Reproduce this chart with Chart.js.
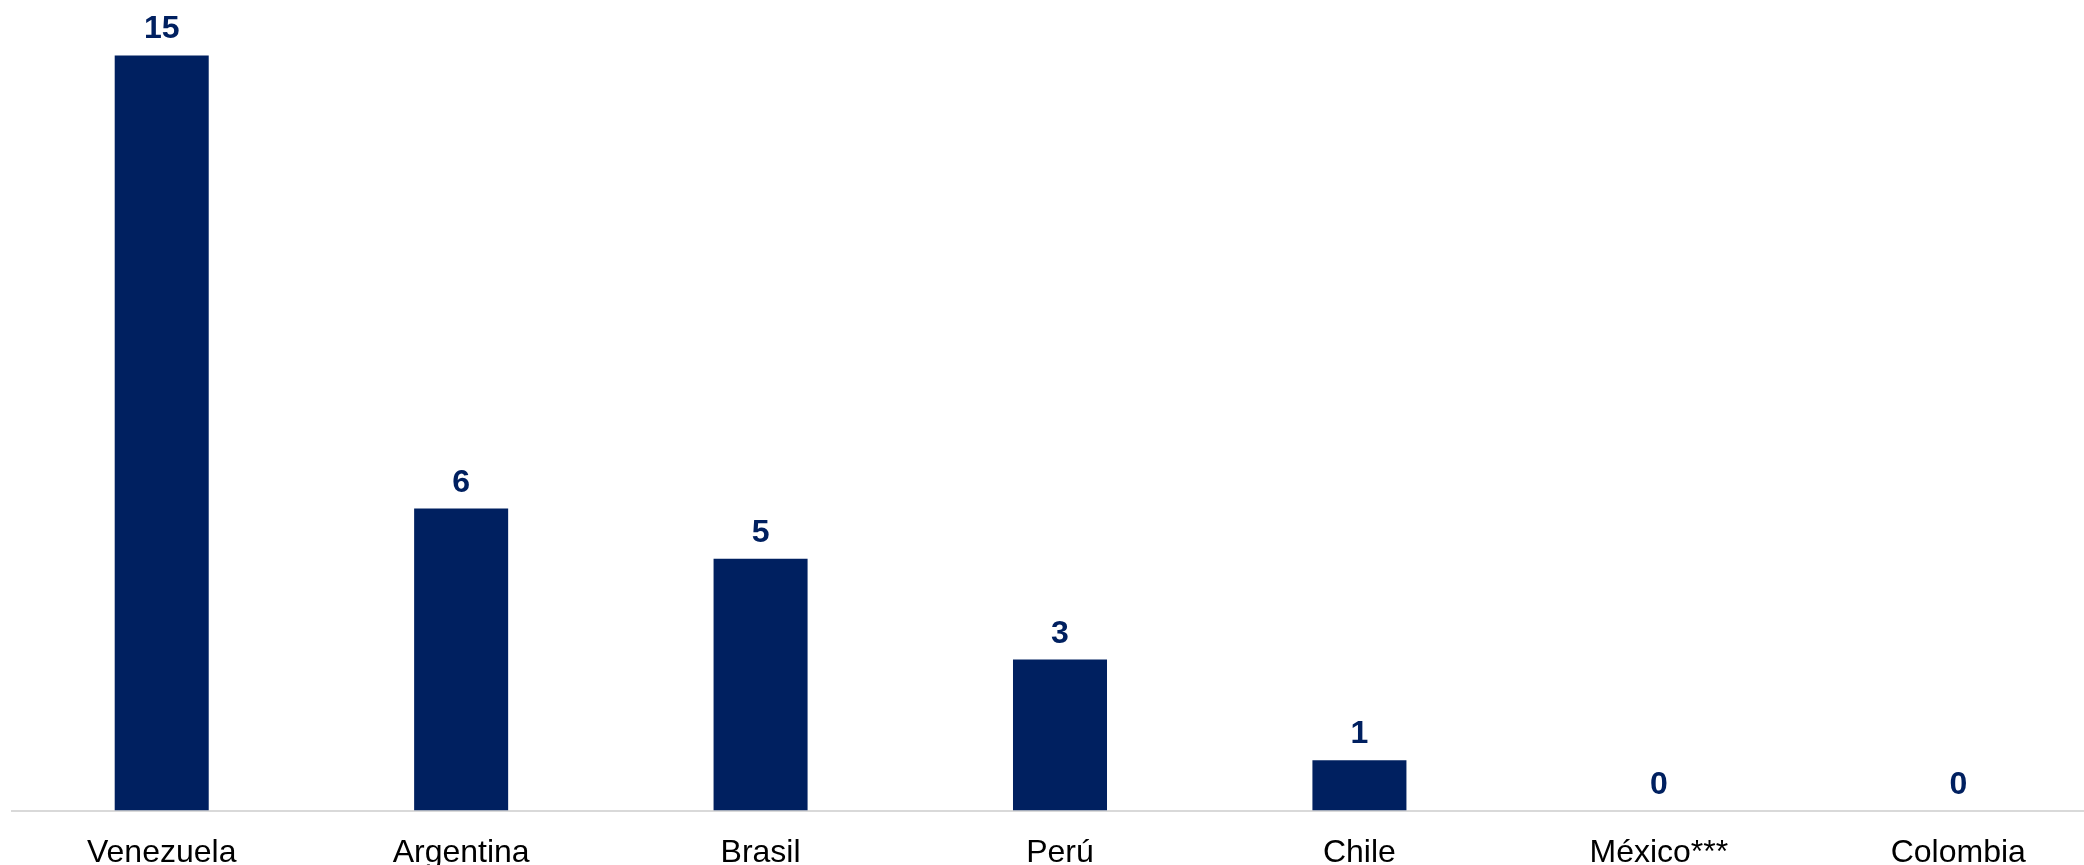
<!DOCTYPE html>
<html>
<head>
<meta charset="utf-8">
<style>
  html, body { margin: 0; padding: 0; background: #fff; overflow: hidden; }
  canvas { display: block; }
</style>
</head>
<body>
<canvas id="barChart" width="2108" height="887"></canvas>
<script src="https://cdn.jsdelivr.net/npm/chart.js"></script>
<script>
    const countries = ['Venezuela', 'Argentina', 'Brasil', 'Perú', 'Chile', 'México***', 'Colombia'];
    const counts = [15, 6, 5, 3, 1, 0, 0];

    const navy = '#002060';

    // value labels above each bar
    const valueLabels = {
        id: 'valueLabels',
        afterDatasetsDraw(chart) {
            const c = chart.ctx;
            const meta = chart.getDatasetMeta(0);
            c.save();
            c.font = 'bold 32px "Liberation Sans", Arial, sans-serif';
            c.fillStyle = navy;
            c.textAlign = 'center';
            c.textBaseline = 'alphabetic';
            meta.data.forEach((bar, i) => {
                c.fillText(String(counts[i]), bar.x, bar.y - 17);
            });
            c.restore();
        }
    };

    new Chart(document.getElementById('barChart').getContext('2d'), {
        type: 'bar',
        data: {
            labels: countries,
            datasets: [{
                data: counts,
                backgroundColor: navy,
                borderWidth: 0,
                barPercentage: 0.314,
                categoryPercentage: 1
            }]
        },
        options: {
            responsive: false,
            animation: false,
            layout: { padding: { left: 12, right: 0, top: 0, bottom: 0 } },
            plugins: {
                legend: { display: false },
                tooltip: { enabled: false }
            },
            scales: {
                x: {
                    grid: { display: false },
                    border: { display: true, color: '#d9d9d9', width: 2 },
                    ticks: {
                        color: '#000',
                        padding: 15,
                        maxRotation: 0,
                        font: { family: '"Liberation Sans", Arial, sans-serif', size: 32 }
                    }
                },
                y: {
                    display: false,
                    min: 0,
                    max: 16.1
                }
            }
        },
        plugins: [valueLabels]
    });
</script>
</body>
</html>
